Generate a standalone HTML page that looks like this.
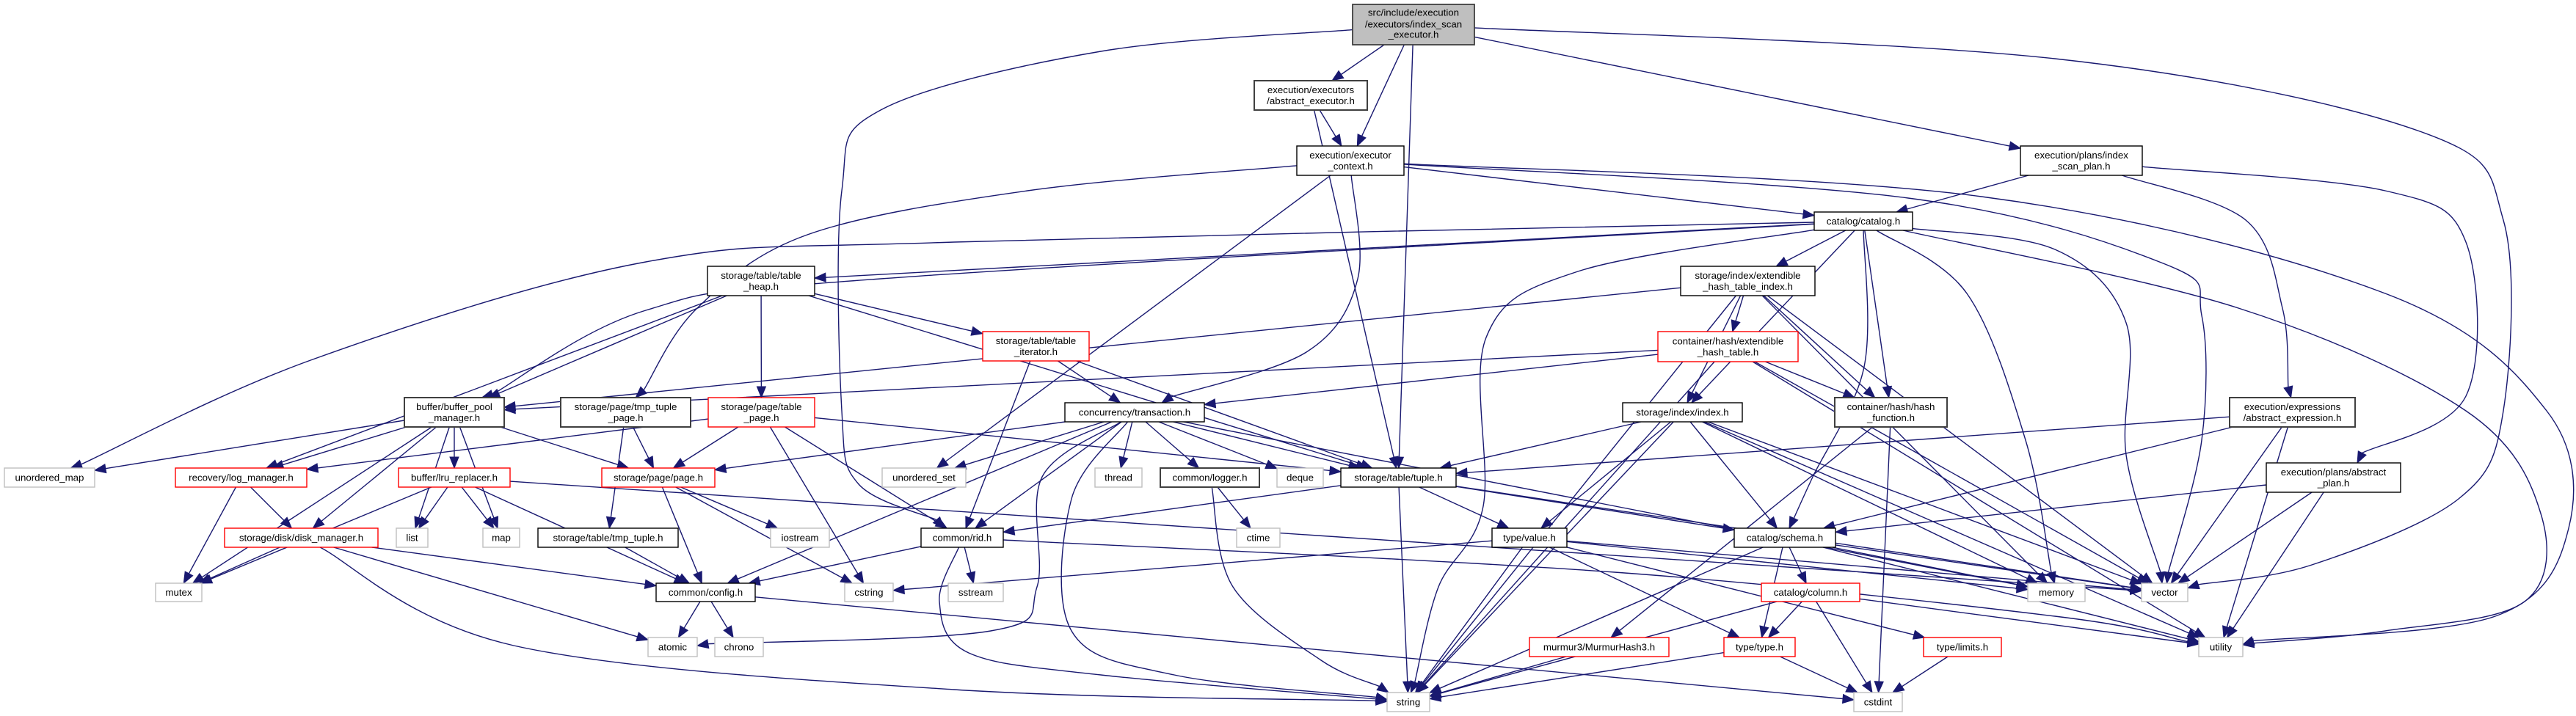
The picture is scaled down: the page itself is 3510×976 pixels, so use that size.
<!DOCTYPE html>
<html><head><meta charset="utf-8">
<style>
html,body{margin:0;padding:0;background:#fff;}
svg{display:block;}
text{font-family:"Liberation Sans",sans-serif;font-size:13.3px;fill:#000;text-anchor:middle;}
</style></head>
<body>
<svg id="g" xmlns="http://www.w3.org/2000/svg" width="3510" height="976" viewBox="0 0 3510 976">
<rect x="0" y="0" width="3510" height="976" fill="#fff"/>
<g id="edges"></g>
<g id="boxes"></g>
<g id="labels">
<text x="1926" y="21.5">src/include/execution</text><text x="1926" y="37.5">/executors/index_scan</text><text x="1926" y="51.5">_executor.h</text>
<text x="1786" y="127.2">execution/executors</text><text x="1786" y="141.9">/abstract_executor.h</text>
<text x="1840" y="216.2">execution/executor</text><text x="1840" y="230.9">_context.h</text>
<text x="2836" y="216.2">execution/plans/index</text><text x="2836" y="230.9">_scan_plan.h</text>
<text x="2539" y="306">catalog/catalog.h</text>
<text x="2381.5" y="380.2">storage/index/extendible</text><text x="2381.5" y="394.9">_hash_table_index.h</text>
<text x="2354.5" y="469.7">container/hash/extendible</text><text x="2354.5" y="484.4">_hash_table.h</text>
<text x="1037" y="380.2">storage/table/table</text><text x="1037" y="394.9">_heap.h</text>
<text x="1411.5" y="469.2">storage/table/table</text><text x="1411.5" y="483.9">_iterator.h</text>
<text x="619" y="559.2">buffer/buffer_pool</text><text x="619" y="573.9">_manager.h</text>
<text x="852.5" y="559.2">storage/page/tmp_tuple</text><text x="852.5" y="573.9">_page.h</text>
<text x="1037.5" y="559.2">storage/page/table</text><text x="1037.5" y="573.9">_page.h</text>
<text x="2576.5" y="559.2">container/hash/hash</text><text x="2576.5" y="573.9">_function.h</text>
<text x="3123.5" y="559.2">execution/expressions</text><text x="3123.5" y="573.9">/abstract_expression.h</text>
<text x="1546" y="566.5">concurrency/transaction.h</text>
<text x="2292.5" y="566.5">storage/index/index.h</text>
<text x="67.5" y="655.5">unordered_map</text>
<text x="328.5" y="655.5">recovery/log_manager.h</text>
<text x="619" y="655.5">buffer/lru_replacer.h</text>
<text x="897" y="655.5">storage/page/page.h</text>
<text x="1259" y="655.5">unordered_set</text>
<text x="1524" y="655.5">thread</text>
<text x="1648.5" y="655.5">common/logger.h</text>
<text x="1771.5" y="655.5">deque</text>
<text x="1905.5" y="655.5">storage/table/tuple.h</text>
<text x="3179.5" y="648.2">execution/plans/abstract</text><text x="3179.5" y="662.9">_plan.h</text>
<text x="410.5" y="737.5">storage/disk/disk_manager.h</text>
<text x="561.5" y="737.5">list</text>
<text x="683" y="737.5">map</text>
<text x="828.5" y="737.5">storage/table/tmp_tuple.h</text>
<text x="1090" y="737.5">iostream</text>
<text x="1311" y="737.5">common/rid.h</text>
<text x="1714.5" y="737.5">ctime</text>
<text x="2084" y="737.5">type/value.h</text>
<text x="2432" y="737.5">catalog/schema.h</text>
<text x="243.5" y="812">mutex</text>
<text x="961.5" y="812">common/config.h</text>
<text x="1184" y="812">cstring</text>
<text x="1329.5" y="812">sstream</text>
<text x="2467" y="812">catalog/column.h</text>
<text x="2802" y="812">memory</text>
<text x="2949.5" y="812">vector</text>
<text x="916.5" y="886.5">atomic</text>
<text x="1007" y="886.5">chrono</text>
<text x="2179" y="886.5">murmur3/MurmurHash3.h</text>
<text x="2397.5" y="886.5">type/type.h</text>
<text x="2674" y="886.5">type/limits.h</text>
<text x="3026" y="886.5">utility</text>
<text x="1919" y="961.5">string</text>
<text x="2559" y="961.5">cstdint</text>
</g>
</svg>
<script>
var N={
root:[1843,6,166,55,'root'],AE:[1709,110,154,40,'d'],EC:[1767,199,146,40,'k'],ISP:[2753,199,166,40,'k'],
CAT:[2472,289,134,25,'k'],EHTI:[2290,363,183,40,'k'],EHT:[2259,452,191,41,'r'],TH:[964,363,146,40,'k'],
TI:[1339,452,145,40,'r'],BPM:[551,542,136,40,'d'],TTP:[764,542,177,40,'d'],TP:[965,542,145,40,'r'],
TXN:[1451,549,190,26,'k'],IDX:[2211,549,163,26,'k'],HF:[2500,542,153,40,'d'],AEX:[3038,542,171,40,'d'],
UMAP:[6,638,123,26,'g'],LOG:[239,638,179,26,'r'],LRU:[543,638,152,26,'r'],PAGE:[820,638,154,26,'r'],
USET:[1202,638,114,26,'g'],THR:[1492,638,64,26,'g'],LOGR:[1581,638,135,26,'d'],DEQ:[1740,638,63,26,'g'],
TUP:[1827,638,157,26,'k'],APL:[3088,631,183,40,'k'],DISK:[306,720,209,26,'r'],LIST:[540,720,43,26,'g'],
MAP:[658,720,50,26,'g'],TT:[733,720,191,26,'k'],IOS:[1050,720,80,26,'g'],RID:[1255,720,112,26,'k'],
CTIME:[1685,720,59,26,'g'],VAL:[2033,720,102,26,'k'],SCH:[2363,720,138,26,'k'],MUTEX:[212,795,63,25,'g'],
CFG:[894,795,135,25,'k'],CSTR:[1151,795,66,25,'g'],SSTR:[1292,795,75,25,'g'],COL:[2400,795,134,25,'r'],
MEM:[2763,795,78,25,'g'],VEC:[2918,795,63,25,'g'],ATOM:[883,869,67,26,'g'],CHR:[974,869,66,26,'g'],
MUR:[2084,869,190,26,'r'],TYPE:[2349,869,97,26,'r'],LIM:[2621,869,106,26,'r'],UTIL:[2996,869,60,26,'g'],
STR:[1890,944,58,26,'g'],CSTD:[2526,944,66,26,'g']};
var E=("root>AE root>EC root>TUP root>RID root>ISP root>VEC AE>EC AE>TUP EC>CAT EC>TXN EC>USET EC>TTP EC>VEC EC>UTIL "+
"ISP>CAT ISP>AEX ISP>APL CAT>TH CAT>EHTI CAT>BPM CAT>UMAP CAT>STR CAT>VEC CAT>MEM CAT>HF CAT>IDX CAT>SCH CAT>UTIL "+
"EHTI>EHT EHTI>HF EHTI>IDX EHTI>BPM EHTI>STR EHTI>VEC EHTI>MEM EHT>BPM EHT>TXN EHT>HF EHT>STR EHT>VEC EHT>UTIL "+
"HF>MUR HF>CSTD TH>TI TH>TP TH>BPM TH>LOG TH>TUP TI>TXN TI>TUP TI>RID TTP>PAGE TTP>TT TP>PAGE TP>RID TP>LOG TP>TUP TP>CSTR "+
"BPM>LOG BPM>LRU BPM>PAGE BPM>DISK BPM>LIST BPM>MAP BPM>UMAP BPM>MUTEX TXN>PAGE TXN>USET TXN>THR TXN>LOGR TXN>DEQ TXN>TUP "+
"TXN>RID TXN>CFG TXN>ATOM TXN>STR TXN>MEM LOG>DISK LOG>MUTEX LRU>LIST LRU>MAP LRU>MUTEX LRU>VEC LRU>CFG DISK>MUTEX DISK>CFG "+
"DISK>ATOM DISK>STR PAGE>CFG PAGE>IOS PAGE>CSTR TT>CFG LOGR>CTIME LOGR>STR RID>CFG RID>SSTR RID>STR RID>UTIL CFG>ATOM CFG>CHR CFG>CSTD "+
"TUP>RID TUP>VAL TUP>SCH TUP>STR TUP>VEC IDX>TUP IDX>VAL IDX>SCH IDX>STR IDX>VEC IDX>MEM IDX>UTIL VAL>CSTR VAL>TYPE VAL>STR "+
"VAL>LIM VAL>VEC VAL>MEM SCH>COL SCH>TYPE SCH>STR SCH>VEC SCH>MEM SCH>UTIL COL>TYPE COL>STR COL>CSTD COL>UTIL TYPE>STR TYPE>CSTD "+
"MUR>STR LIM>CSTD AEX>TUP AEX>SCH AEX>VEC AEX>UTIL APL>SCH APL>VEC APL>UTIL").split(' ');
var R={
'root>RID':[[1500,70],[1200,150],[1147,260],[1147,560],[1170,660]],
'root>VEC':[[2800,80],[3300,180],[3411,300],[3411,560],[3350,680],[3150,770]],
'EC>VEC':[[2600,270],[2950,360],[3000,430],[3000,600]],
'EC>UTIL':[[2700,268],[3250,400],[3470,560],[3500,720],[3400,840]],
'CAT>VEC':[[2800,340],[2897,440],[2897,620]],
'CAT>UTIL':[[3050,420],[3360,560],[3462,700],[3440,820],[3250,860]],
'ISP>APL':[[3250,260],[3360,330],[3360,540]],
'ISP>AEX':[[3060,300],[3110,420]],
'EC>TTP':[[1400,260],[1100,320],[950,420]],
'CAT>UMAP':[[1300,330],[880,357],[426,490]],
'CAT>BPM':[[1200,380],[880,423]],
'CAT>STR':[[2150,370],[2025,460],[2021,690],[1960,800]],
'EC>TXN':[[1850,380],[1780,480]],
'TXN>ATOM':[[1420,650],[1413,800],[1350,860]],
'TXN>STR':[[1460,680],[1460,860],[1600,920]],
'RID>STR':[[1280,820],[1320,890],[1500,920]],
'LOGR>STR':[[1680,800],[1800,900]],
'CAT>MEM':[[2680,400],[2760,600]],
'CAT>SCH':[[2540,500],[2470,650]],
'DISK>STR':[[700,880],[1300,940]],
'RID>UTIL':[[2200,780],[2800,840]]
};
function ctr(b){return [b[0]+b[2]/2,b[1]+b[3]/2];}
function clip(b,p){var c=ctr(b),dx=p[0]-c[0],dy=p[1]-c[1];var t=1e9;
 if(Math.abs(dx)>1e-6)t=Math.min(t,(b[2]/2)/Math.abs(dx));if(Math.abs(dy)>1e-6)t=Math.min(t,(b[3]/2)/Math.abs(dy));
 return [c[0]+dx*t,c[1]+dy*t];}
var eg=document.getElementById('edges'),ns='http://www.w3.org/2000/svg',out='';
E.forEach(function(e){if(!e)return;var s=e.split('>'),a=N[s[0]],b=N[s[1]];if(!a||!b)return;
 var via=R[e]||[];var p0=clip(a,via.length?via[0]:ctr(b)),pn=clip(b,via.length?via[via.length-1]:ctr(a));
 var P=[p0].concat(via,[pn]);
 // arrow
 var prev=P[P.length-2];var dx=pn[0]-prev[0],dy=pn[1]-prev[1];
 if(P.length>2){var i=P.length-2,Pm=P[i-1];dx=pn[0]-(pn[0]-(pn[0]-Pm[0])/6);dy=pn[1]-(pn[1]-(pn[1]-Pm[1])/6);}
 var L=Math.sqrt(dx*dx+dy*dy)||1,ux=dx/L,uy=dy/L;
 var base=[pn[0]-ux*15,pn[1]-uy*15];P[P.length-1]=base;
 var d='M'+P[0][0].toFixed(1)+','+P[0][1].toFixed(1);
 for(var k=0;k<P.length-1;k++){var q0=P[k-1]||P[k],q1=P[k],q2=P[k+1],q3=P[k+2]||P[k+1];
  var c1=[q1[0]+(q2[0]-q0[0])/6,q1[1]+(q2[1]-q0[1])/6],c2=[q2[0]-(q3[0]-q1[0])/6,q2[1]-(q3[1]-q1[1])/6];
  d+=' C'+c1[0].toFixed(1)+','+c1[1].toFixed(1)+' '+c2[0].toFixed(1)+','+c2[1].toFixed(1)+' '+q2[0].toFixed(1)+','+q2[1].toFixed(1);}
 out+='<path d="'+d+'" fill="none" stroke="#191970" stroke-width="1.4"/>';
 var nx=-uy,ny=ux;
 out+='<polygon points="'+pn[0].toFixed(1)+','+pn[1].toFixed(1)+' '+(base[0]+nx*6).toFixed(1)+','+(base[1]+ny*6).toFixed(1)+' '+(base[0]-nx*6).toFixed(1)+','+(base[1]-ny*6).toFixed(1)+'" fill="#191970" stroke="#191970"/>';
});
eg.innerHTML=out;
var bo='';for(var k in N){var b=N[k],st=b[4],f='#fff',s='#000',w=1.4;
 if(st=='root'){f='#bfbfbf';s='#404040';w=1.8;}else if(st=='d'){s='#404040';w=2;}else if(st=='r'){s='#ff0000';w=1.4;}else if(st=='g'){s='#bfbfbf';w=1.4;}
 bo+='<rect x="'+b[0]+'" y="'+b[1]+'" width="'+b[2]+'" height="'+b[3]+'" fill="'+f+'" stroke="'+s+'" stroke-width="'+w+'"/>';}
document.getElementById('boxes').innerHTML=bo;
</script>
</body></html>
